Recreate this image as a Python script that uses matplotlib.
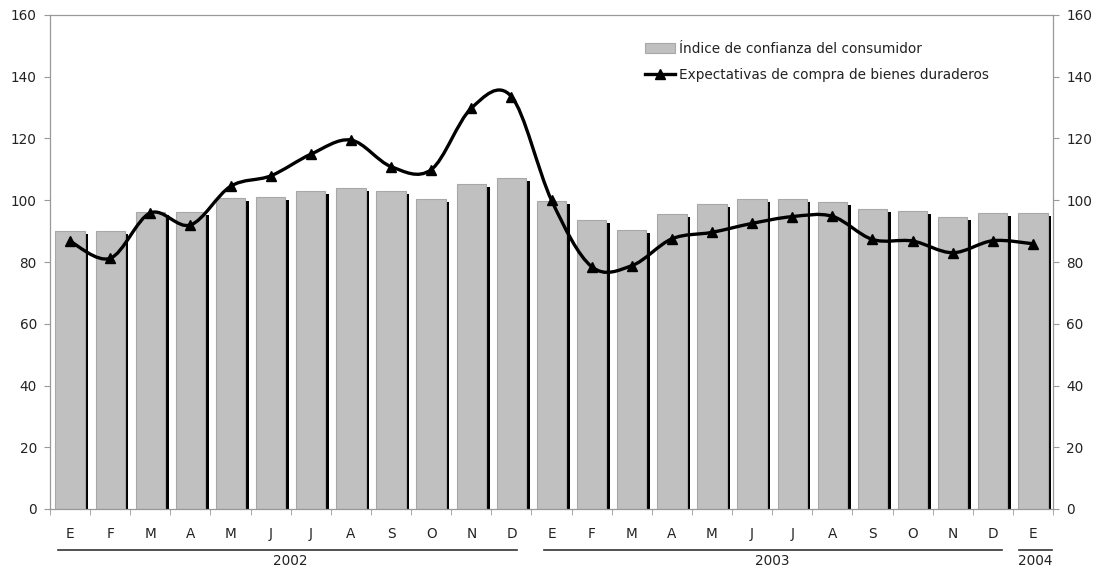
import matplotlib
matplotlib.use("Agg")
import matplotlib.pyplot as plt
import matplotlib.transforms as mtransforms
from matplotlib.path import Path
from matplotlib.patches import PathPatch, Patch
from matplotlib.lines import Line2D
import numpy as np

months = ["E", "F", "M", "A", "M", "J", "J", "A", "S", "O", "N", "D",
          "E", "F", "M", "A", "M", "J", "J", "A", "S", "O", "N", "D", "E"]
years = ["2002", "2003", "2004"]
confianza = [90, 90, 96.2, 96.2, 100.8, 101.2, 103.1, 104.1, 103.1, 100.3, 105.2, 107.3,
             99.9, 93.6, 90.4, 95.7, 98.9, 100.3, 100.4, 99.5, 97.1, 96.5, 94.7, 96.0, 96.0]
expectativas = [86.7, 81.2, 95.9, 92.0, 104.5, 107.9, 114.9, 119.5, 110.9, 109.9, 129.8, 133.6,
                100.0, 78.5, 78.8, 87.5, 89.6, 92.5, 94.7, 94.8, 87.3, 86.8, 83.0, 86.9, 85.9]
yticks = [0, 20, 40, 60, 80, 100, 120, 140, 160]
label_bar = "Índice de confianza del consumidor"
label_line = "Expectativas de compra de bienes duraderos"

plt.rcParams['font.family'] = ['DejaVu Sans']
FS = 9.8
TXT = "#222222"
SPINE = "#999999"
BARC = "#c0c0c0"
BAREDGE = "#a8a8a8"

fig = plt.figure(figsize=(10.96, 5.72), dpi=100)
ax = fig.add_axes([50 / 1096, 1 - 509 / 572, 1003 / 1096, 494 / 572])

x = np.arange(len(months))
bw = 0.73
# shadows (offset right/down)
ax.bar(x + 0.09, np.array(confianza) - 1.0, width=bw, color="black", zorder=1)
ax.bar(x, confianza, width=bw, color=BARC, edgecolor=BAREDGE, linewidth=0.8, zorder=2)

# smoothed line (Catmull-Rom style Bezier, like Excel smoothing)
xs = x.astype(float)
ys = np.array(expectativas, dtype=float)
n = len(xs)
verts = [(xs[0], ys[0])]
codes = [Path.MOVETO]
for i in range(n - 1):
    p0 = (xs[max(i - 1, 0)], ys[max(i - 1, 0)])
    p1 = (xs[i], ys[i])
    p2 = (xs[i + 1], ys[i + 1])
    p3 = (xs[min(i + 2, n - 1)], ys[min(i + 2, n - 1)])
    c1 = (p1[0] + (p2[0] - p0[0]) / 6, p1[1] + (p2[1] - p0[1]) / 6)
    c2 = (p2[0] - (p3[0] - p1[0]) / 6, p2[1] - (p3[1] - p1[1]) / 6)
    verts += [c1, c2, p2]
    codes += [Path.CURVE4] * 3
ax.add_patch(PathPatch(Path(verts, codes), facecolor="none", edgecolor="black",
                       linewidth=2.4, zorder=4))
ax.plot(xs, ys, linestyle="none", marker="^", markersize=7.5, color="black", zorder=5)

ax.set_xlim(-0.5, len(months) - 0.5)
ax.set_ylim(0, 160)
ax.set_yticks(yticks)
ax.set_xticks(x)
ax.set_xticklabels(months, fontsize=FS, color=TXT)
ax.set_xticks(np.arange(len(months) + 1) - 0.5, minor=True)
ax.tick_params(axis="x", which="major", length=0, pad=13)
ax.tick_params(axis="x", which="minor", length=4, color=SPINE, direction="out")
ax.tick_params(axis="y", length=4.5, color=SPINE, labelsize=FS, labelcolor=TXT, pad=5,
               left=True, right=True, labelleft=True, labelright=True)
for s in ax.spines.values():
    s.set_color(SPINE)
    s.set_linewidth(0.9)

# year groups
trans = mtransforms.blended_transform_factory(ax.transData, ax.transAxes)
groups = [(-0.3, 11.15, 5.5), (11.82, 23.24, 17.5), (23.65, 24.48, 24.07)]
for (a, b, c), yr in zip(groups, years):
    ax.add_line(Line2D([a, b], [-0.082, -0.082], transform=trans, color="#333333",
                       linewidth=1.2, clip_on=False))
    ax.text(c, -0.106, yr, transform=trans, ha="center", va="center", fontsize=FS, color=TXT)

handles = [Patch(facecolor=BARC, edgecolor=BAREDGE, linewidth=0.8),
           Line2D([], [], color="black", linewidth=2.4, marker="^", markersize=7.5)]
fig.legend(handles, [label_bar, label_line], loc="upper left",
           bbox_to_anchor=(645 / 1096, 1 - 42 / 572), frameon=False, fontsize=FS,
           handlelength=2.2, handletextpad=0.3, labelspacing=0.85, borderpad=0,
           borderaxespad=0, labelcolor=TXT)

fig.savefig("out.png", dpi=100)
